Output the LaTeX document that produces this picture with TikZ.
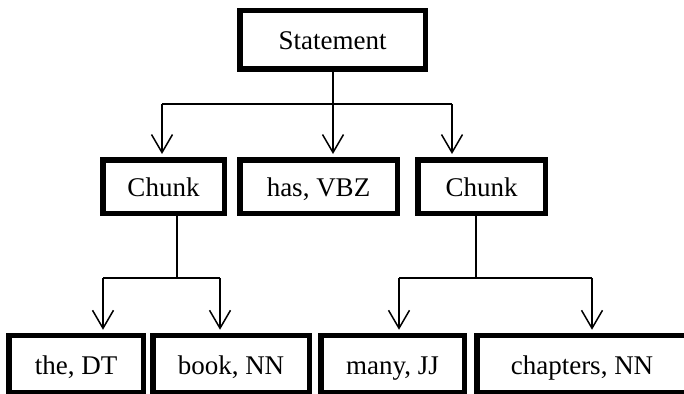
\documentclass[tikz,border=0pt]{standalone}
\usepackage{fontspec}
\setmainfont{Liberation Serif}
\usetikzlibrary{arrows.meta}

\begin{document}
\begin{tikzpicture}[x=1pt,y=-1pt]

          \tikzstyle{wordBox} = [draw, line width=5.5pt, inner sep=0pt, text height=20pt, text depth=0pt, font=\fontsize{27}{32}\selectfont];
          \tikzstyle{treeEdge} = [line width=1.5pt];
          \tikzstyle{treeArrow} = [line width=1.5pt, -{Straight Barb[length=18pt,width=21pt]}, shorten >=3pt];

          \useasboundingbox (0,0) rectangle (684,393);
          \clip (0,0) rectangle (684,393);

          \node[wordBox, minimum width=185.5pt, minimum height=58.5pt] (stmt) at (332.5,40) {Statement};
          \node[wordBox, minimum width=121.5pt, minimum height=53.5pt] (chunkA) at (163.5,186.5) {Chunk};
          \node[wordBox, minimum width=157.5pt, minimum height=53.5pt] (has) at (318.5,186.5) {has, VBZ};
          \node[wordBox, minimum width=127.5pt, minimum height=53.5pt] (chunkB) at (481.5,186.5) {Chunk};
          \node[wordBox, minimum width=134.5pt, minimum height=57pt] (the) at (76,364) {the, DT};
          \node[wordBox, minimum width=156.5pt, minimum height=57pt] (book) at (231,364) {book, NN};
          \node[wordBox, minimum width=143.5pt, minimum height=57pt] (many) at (392.5,364) {many, JJ};
          \node[wordBox, minimum width=210.5pt, minimum height=57pt] (chapters) at (582,364) {chapters, NN};

          \coordinate (stmtJoin) at (333,104);
          \coordinate (stmtL) at (162,104);
          \coordinate (stmtR) at (452,104);
          \coordinate (chunkAJoin) at (177,278);
          \coordinate (chunkAL) at (103,278);
          \coordinate (chunkAR) at (220,278);
          \coordinate (chunkBJoin) at (476,278);
          \coordinate (chunkBL) at (399,278);
          \coordinate (chunkBR) at (592,278);

          \draw[treeEdge] (stmt.south -| stmtJoin) -- (stmtJoin);
          \draw[treeEdge] (stmtL) -- (stmtR);
          \draw[treeArrow] (stmtL) -- (stmtL |- chunkA.north);
          \draw[treeArrow] (stmtJoin) -- (stmtJoin |- has.north);
          \draw[treeArrow] (stmtR) -- (stmtR |- chunkB.north);

          \draw[treeEdge] (chunkA.south -| chunkAJoin) -- (chunkAJoin);
          \draw[treeEdge] (chunkAL) -- (chunkAR);
          \draw[treeArrow] (chunkAL) -- (chunkAL |- the.north);
          \draw[treeArrow] (chunkAR) -- (chunkAR |- book.north);

          \draw[treeEdge] (chunkB.south -| chunkBJoin) -- (chunkBJoin);
          \draw[treeEdge] (chunkBL) -- (chunkBR);
          \draw[treeArrow] (chunkBL) -- (chunkBL |- many.north);
          \draw[treeArrow] (chunkBR) -- (chunkBR |- chapters.north);
        \end{tikzpicture}
\end{document}
